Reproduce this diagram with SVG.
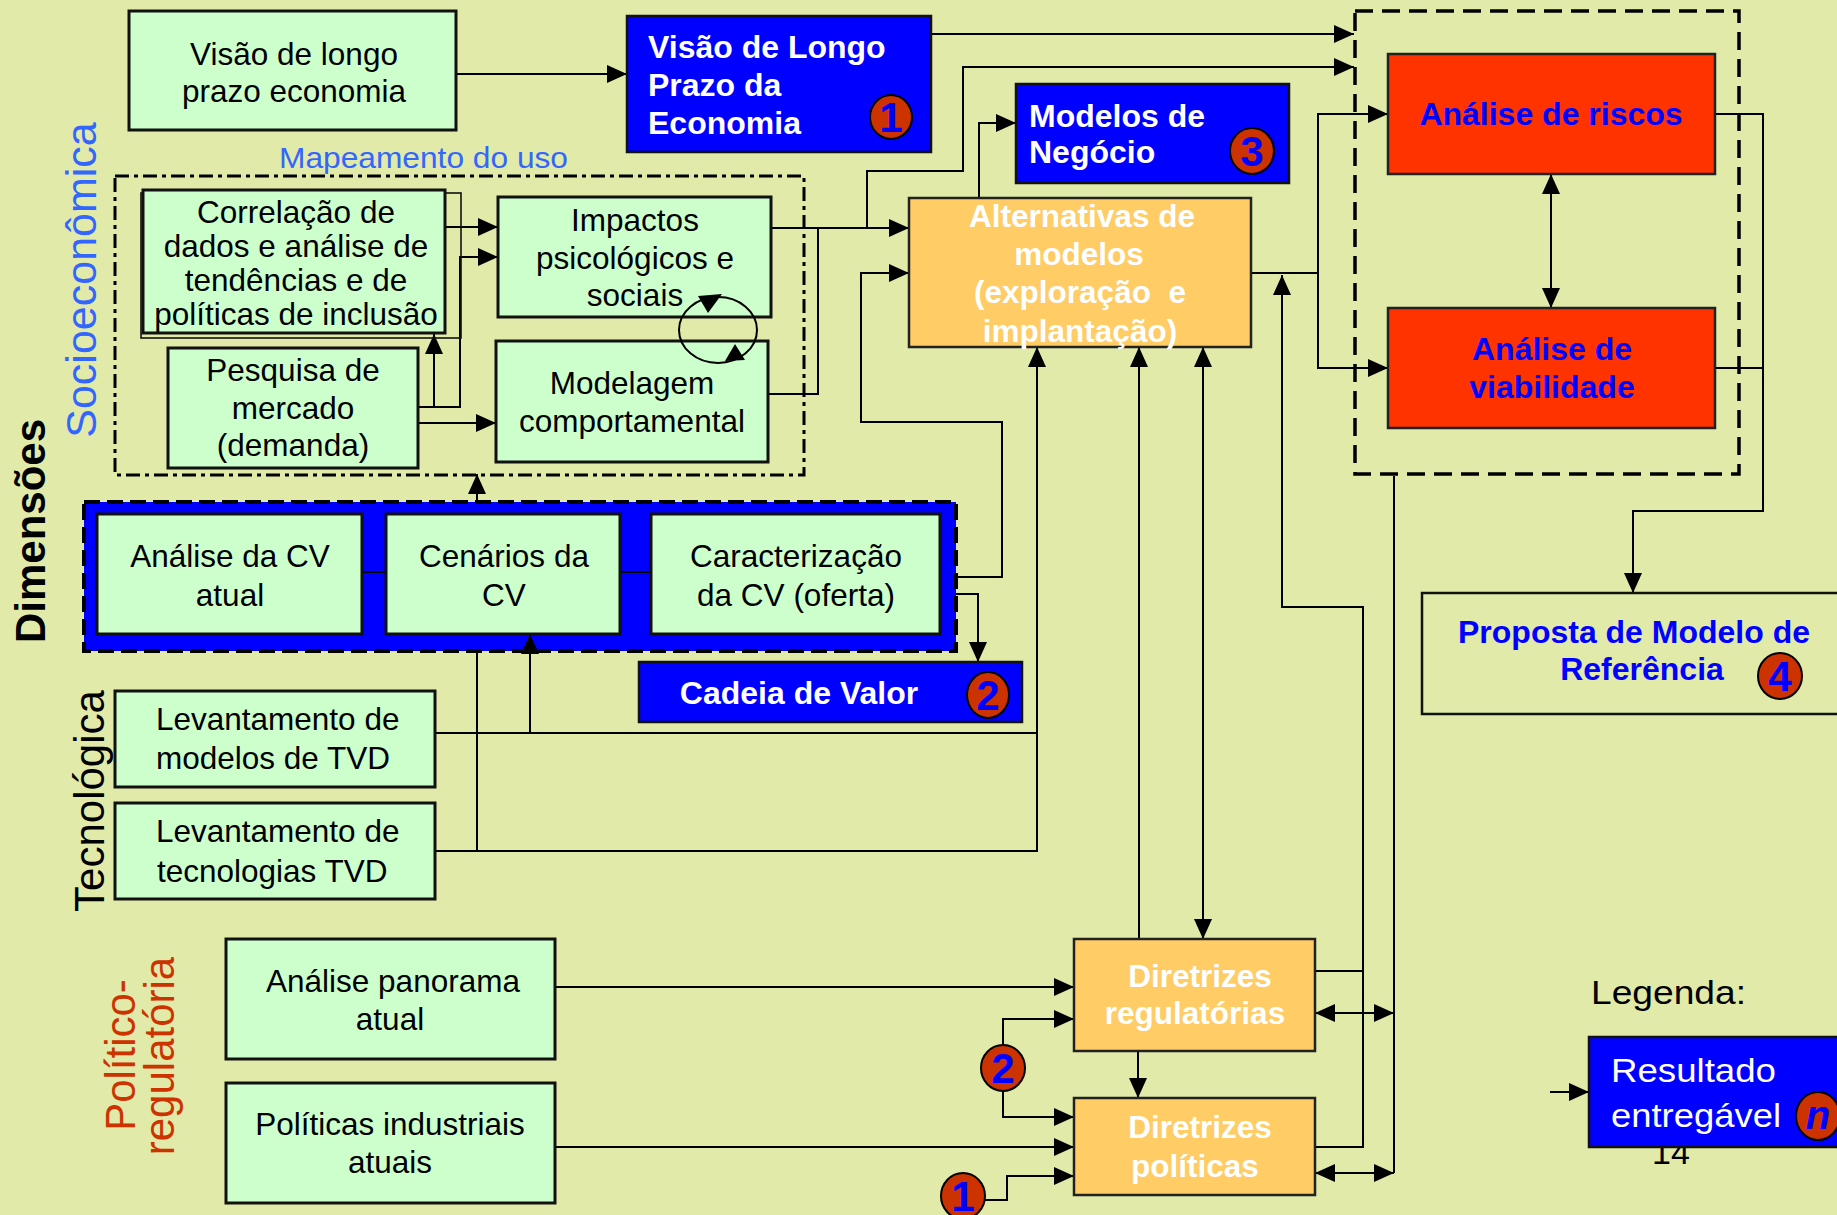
<svg xmlns="http://www.w3.org/2000/svg" width="1837" height="1215" viewBox="0 0 1837 1215">
<defs>
<style>
text{font-family:"Liberation Sans",Arial,Helvetica,sans-serif}
.g{fill:#ccffcc;stroke:#111;stroke-width:3}
.b{fill:#0000ff;stroke:#111;stroke-width:2.5}
.o{fill:#ffcc66;stroke:#222;stroke-width:2.5}
.r{fill:#ff3300;stroke:#222;stroke-width:2.5}
.t{font-size:31.5px;fill:#000;text-anchor:middle}
.tl{font-size:31.5px;fill:#000}
.w{font-size:32px;font-weight:bold;fill:#fff}
.wc{font-size:31.5px;font-weight:bold;fill:#fff;text-anchor:middle}
.bl{font-size:32px;font-weight:bold;fill:#0000ff;text-anchor:middle}
.bd ellipse{fill:#cc3300;stroke:#000;stroke-width:2}
.bd text{font-size:42px;font-weight:bold;fill:#0000ff;text-anchor:middle}
.c{fill:none;stroke:#000;stroke-width:2}
.a{marker-end:url(#ah)}
.aa{marker-start:url(#ah);marker-end:url(#ah)}
.dim{font-size:42px;font-weight:bold;fill:#000;text-anchor:middle}
.side{font-size:42px;text-anchor:middle}
</style>
<marker id="ah" markerUnits="userSpaceOnUse" markerWidth="20" markerHeight="18" refX="20" refY="9" orient="auto-start-reverse">
<path d="M0,0 L20,9 L0,18 z" fill="#000"/>
</marker>
</defs>

<!-- slide background -->
<rect width="1837" height="1215" fill="#e1eaa9"/>

<!-- dimension labels -->
<g id="labels">
<text class="dim" transform="translate(45,531) rotate(-90)">Dimensões</text>
<text class="side" transform="translate(96,280) rotate(-90)" font-size="43" fill="#3366ff" style="font-size:43px">Socioeconômica</text>
<text class="side" transform="translate(104,801) rotate(-90)" fill="#000">Tecnológica</text>
<text class="side" transform="translate(135,1055) rotate(-90)" fill="#cc3300">Político-</text>
<text class="side" transform="translate(174,1056) rotate(-90)" fill="#cc3300">regulatória</text>
<text x="279" y="168" font-size="30" fill="#3366ff" textLength="289" lengthAdjust="spacingAndGlyphs">Mapeamento do uso</text>
</g>

<!-- grouping frames -->
<g id="frames">
<rect x="115" y="176" width="689" height="299" fill="none" stroke="#000" stroke-width="3" stroke-dasharray="14 5 4 5"/>
<rect x="1355" y="11" width="384" height="463" fill="none" stroke="#000" stroke-width="3.5" stroke-dasharray="18 9"/>
<rect x="84" y="502" width="872" height="149" fill="#0000ff" stroke="#000" stroke-width="4" stroke-dasharray="16 7"/>
</g>

<!-- connectors -->
<g id="connectors" class="c">
<path class="a" d="M456,74 H627"/>
<path class="a" d="M931,34 H1354"/>
<path class="a" d="M867,228 V171 H963 V67 H1354"/>
<path class="a" d="M979,198 V123 H1016"/>
<path class="a" d="M445,227 H498"/>
<path class="a" d="M418,407 H460 V257 H498"/>
<path class="a" d="M434,407 V334"/>
<path class="a" d="M418,423 H496"/>
<path class="a" d="M771,228 H909"/>
<path d="M768,394 H818 V228"/>
<path class="a" d="M956,577 H1002 V422 H861 V273 H909"/>
<path class="a" d="M956,594 H978 V662"/>
<path class="a" d="M477,502 V474"/>
<path d="M477,851 V651"/>
<path d="M362,572 H386 M620,572 H651"/>
<path d="M435,733 H1037"/>
<path class="a" d="M435,851 H1037 V347"/>
<path class="a" d="M530,733 V634"/>
<path class="a" d="M1139,939 V347"/>
<path class="aa" d="M1203,939 V347"/>
<path d="M1251,273 H1318"/>
<path class="aa" d="M1388,114 H1318 V368 H1388"/>
<path class="a" d="M1315,971 H1363 V607 H1282 V275"/>
<path d="M1315,1147 H1363 V971"/>
<path d="M1394,476 V1173"/>
<path class="aa" d="M1315,1013 H1394"/>
<path class="aa" d="M1315,1173 H1394"/>
<path class="aa" d="M1551,174 V308"/>
<path d="M1715,368 H1763"/>
<path class="a" d="M1715,114 H1763 V511 H1633 V593"/>
<path class="a" d="M555,987 H1074"/>
<path class="a" d="M555,1147 H1074"/>
<path class="a" d="M1003,1045 V1019 H1074"/>
<path class="a" d="M1003,1091 V1117 H1074"/>
<path class="a" d="M985,1200 H1007 V1176 H1074"/>
<path class="a" d="M1138,1051 V1098"/>
<path class="a" d="M1550,1092 H1589"/>
</g>

<!-- socioeconomic nodes -->
<g id="visao-longo">
<rect class="g" x="129" y="11" width="327" height="119"/>
<text class="t" x="294" y="65">Visão de longo</text>
<text class="t" x="294" y="102">prazo economia</text>
</g>
<g id="correlacao">
<rect x="141" y="193" width="320" height="145" fill="none" stroke="#111" stroke-width="1.6"/>
<rect class="g" x="143" y="190" width="302" height="143"/>
<text class="t" x="296" y="223">Correlação de</text>
<text class="t" x="296" y="257">dados e análise de</text>
<text class="t" x="296" y="291">tendências e de</text>
<text class="t" x="296" y="325">políticas de inclusão</text>
</g>
<g id="impactos">
<rect class="g" x="498" y="197" width="273" height="120"/>
<text class="t" x="635" y="231">Impactos</text>
<text class="t" x="635" y="269">psicológicos e</text>
<text class="t" x="635" y="306">sociais</text>
</g>
<g id="pesquisa">
<rect class="g" x="168" y="348" width="250" height="120"/>
<text class="t" x="293" y="381">Pesquisa de</text>
<text class="t" x="293" y="419">mercado</text>
<text class="t" x="293" y="456">(demanda)</text>
</g>
<g id="modelagem">
<rect class="g" x="496" y="341" width="272" height="121"/>
<text class="t" x="632" y="394">Modelagem</text>
<text class="t" x="632" y="432">comportamental</text>
</g>
<!-- feedback cycle between Impactos and Modelagem -->
<g id="ciclo">
<ellipse cx="718" cy="330" rx="39" ry="33" fill="none" stroke="#000" stroke-width="2"/>
<polygon points="698,296 722,294 708,313" fill="#000"/>
<polygon points="735,344 745,360 725,361" fill="#000"/>
</g>

<!-- value chain nodes -->
<g id="cv-atual">
<rect class="g" x="97" y="514" width="265" height="120"/>
<text class="t" x="230" y="567">Análise da CV</text>
<text class="t" x="230" y="606">atual</text>
</g>
<g id="cv-cenarios">
<rect class="g" x="386" y="514" width="234" height="120"/>
<text class="t" x="504" y="567">Cenários da</text>
<text class="t" x="504" y="606">CV</text>
</g>
<g id="cv-caracterizacao">
<rect class="g" x="651" y="514" width="289" height="120"/>
<text class="t" x="796" y="567">Caracterização</text>
<text class="t" x="796" y="606">da CV (oferta)</text>
</g>

<!-- technological nodes -->
<g id="lev-modelos">
<rect class="g" x="115" y="691" width="320" height="96"/>
<text class="tl" x="156" y="730">Levantamento de</text>
<text class="tl" x="156" y="769">modelos de TVD</text>
</g>
<g id="lev-tecnologias">
<rect class="g" x="115" y="803" width="320" height="96"/>
<text class="tl" x="156" y="842">Levantamento de</text>
<text class="tl" x="157" y="882">tecnologias TVD</text>
</g>

<!-- political-regulatory nodes -->
<g id="panorama">
<rect class="g" x="226" y="939" width="329" height="120"/>
<text class="t" x="393" y="992">Análise panorama</text>
<text class="t" x="390" y="1030">atual</text>
</g>
<g id="politicas">
<rect class="g" x="226" y="1083" width="329" height="120"/>
<text class="t" x="390" y="1135">Políticas industriais</text>
<text class="t" x="390" y="1173">atuais</text>
</g>

<!-- deliverables -->
<g id="visao-lp">
<rect class="b" x="627" y="16" width="304" height="136"/>
<text class="w" x="648" y="58">Visão de Longo</text>
<text class="w" x="648" y="96">Prazo da</text>
<text class="w" x="648" y="134">Economia</text>
<g class="bd"><ellipse cx="891" cy="117" rx="21" ry="22"/><text x="891" y="132">1</text></g>
</g>
<g id="modelos-negocio">
<rect class="b" x="1016" y="84" width="273" height="99"/>
<text class="w" x="1029" y="127">Modelos de</text>
<text class="w" x="1029" y="163">Negócio</text>
<g class="bd"><ellipse cx="1252" cy="151" rx="22" ry="23"/><text x="1252" y="166">3</text></g>
</g>
<g id="cadeia-valor">
<rect class="b" x="639" y="662" width="383" height="60"/>
<text class="wc" x="799" y="704" style="font-size:32px">Cadeia de Valor</text>
<g class="bd"><ellipse cx="988" cy="695" rx="21" ry="23"/><text x="988" y="710">2</text></g>
</g>

<!-- model alternatives and guidelines -->
<g id="alternativas">
<rect class="o" x="909" y="198" width="342" height="149"/>
<text class="wc" x="1082" y="227">Alternativas de</text>
<text class="wc" x="1079" y="265">modelos</text>
<text class="wc" x="1080" y="303">(exploração&#160; e</text>
<text class="wc" x="1080" y="342">implantação)</text>
</g>
<g id="dir-regulatorias">
<rect class="o" x="1074" y="939" width="241" height="112"/>
<text class="wc" x="1200" y="987">Diretrizes</text>
<text class="wc" x="1195" y="1024">regulatórias</text>
</g>
<g id="dir-politicas">
<rect class="o" x="1074" y="1098" width="241" height="97"/>
<text class="wc" x="1200" y="1138">Diretrizes</text>
<text class="wc" x="1195" y="1177">políticas</text>
</g>
<g id="badge-2">
<g class="bd"><ellipse cx="1003" cy="1068" rx="22" ry="23"/><text x="1003" y="1083">2</text></g>
</g>
<g id="badge-1">
<g class="bd"><ellipse cx="963" cy="1196" rx="22" ry="23"/><text x="963" y="1211">1</text></g>
</g>

<!-- analyses -->
<g id="riscos">
<rect class="r" x="1388" y="54" width="327" height="120"/>
<text class="bl" x="1551" y="125">Análise de riscos</text>
</g>
<g id="viabilidade">
<rect class="r" x="1388" y="308" width="327" height="120"/>
<text class="bl" x="1552" y="360">Análise de</text>
<text class="bl" x="1552" y="398">viabilidade</text>
</g>
<g id="proposta">
<rect x="1422" y="593" width="430" height="121" fill="none" stroke="#111" stroke-width="2.5"/>
<text class="bl" x="1634" y="643">Proposta de Modelo de</text>
<text class="bl" x="1642" y="680">Referência</text>
<g class="bd"><ellipse cx="1780" cy="676" rx="22" ry="23"/><text x="1780" y="691">4</text></g>
</g>

<!-- legend -->
<g id="legenda">
<text x="1591" y="1004" font-size="34" fill="#000" textLength="155" lengthAdjust="spacingAndGlyphs">Legenda:</text>
<text x="1652" y="1164" font-size="34" fill="#000">14</text>
<rect class="b" x="1589" y="1037" width="260" height="110"/>
<text x="1611" y="1082" font-size="34" fill="#fff" textLength="165" lengthAdjust="spacingAndGlyphs">Resultado</text>
<text x="1611" y="1127" font-size="34" fill="#fff" textLength="170" lengthAdjust="spacingAndGlyphs">entregável</text>
<g class="bd"><ellipse cx="1818" cy="1116" rx="22" ry="24"/><text x="1818" y="1129" style="font-size:40px;font-style:italic">n</text></g>
</g>
</svg>
